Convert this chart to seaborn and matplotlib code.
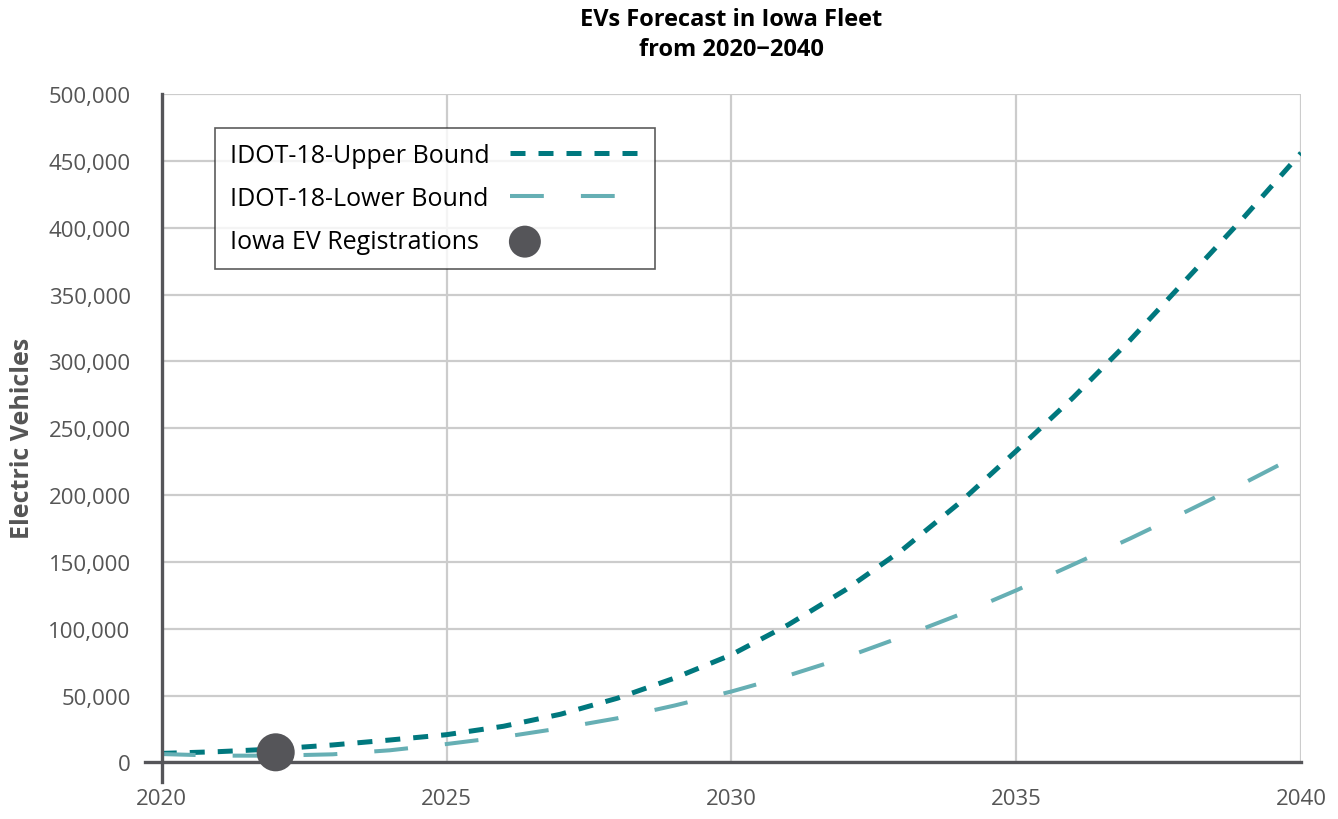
import matplotlib
matplotlib.use("Agg")
import matplotlib.pyplot as plt
import seaborn as sns
import pandas as pd
from matplotlib.ticker import FuncFormatter
from matplotlib.collections import PathCollection
from matplotlib.legend_handler import HandlerPathCollection

years = list(range(2020, 2041))
upper_bound = [6700, 8000, 10000, 13000, 16700, 20700, 27000, 36000, 48000, 63000,
               80500, 103000, 129000, 159000, 194000, 233000, 273000, 316000, 362000, 408000, 456000]
lower_bound = [6200, 5000, 5000, 6000, 9000, 13700, 19000, 25500, 33000, 42500,
               53000, 65000, 78500, 94000, 110500, 128700, 148000, 167500, 188000, 209000, 231000]
reg_years = [2022]
reg_values = [7500]

series_labels = ["IDOT-18-Upper Bound", "IDOT-18-Lower Bound", "Iowa EV Registrations"]
title_text = "EVs Forecast in Iowa Fleet\nfrom 2020\u22122040"
y_label = "Electric Vehicles"
x_ticks = [2020, 2025, 2030, 2035, 2040]
y_ticks = list(range(0, 500001, 50000))

sns.set_theme(style="white")
plt.rcParams['font.family'] = ['Open Sans', 'DejaVu Sans']

upper_color = "#00787E"
lower_color = "#66AFB4"
dot_color = "#555559"
grid_color = "#CCCCCC"
spine_color = "#555559"
text_gray = "#555555"


class LeftDotHandler(HandlerPathCollection):
    def get_xdata(self, legend, xdescent, ydescent, width, height, fontsize):
        x = [-xdescent + 0.115 * width]
        return x, x


fig = plt.figure(figsize=(13.38, 8.2), dpi=100)
ax = fig.add_axes([0.1209, 0.0691, 0.8515, 0.8149])

df = pd.DataFrame({"year": years, "upper": upper_bound, "lower": lower_bound})

sns.lineplot(data=df, x="year", y="upper", ax=ax, color=upper_color, linewidth=3.6,
             label=series_labels[0], zorder=3)
ax.lines[-1].set_dashes((3.0, 2.6))
sns.lineplot(data=df, x="year", y="lower", ax=ax, color=lower_color, linewidth=2.9,
             label=series_labels[1], zorder=3)
ax.lines[-1].set_dashes((8.4, 9.2))
sns.scatterplot(x=reg_years, y=reg_values, ax=ax, s=750, color=dot_color,
                edgecolor="none", label=series_labels[2], zorder=5, clip_on=False)

ax.set_xlim(2020, 2040)
ax.set_ylim(0, 500000)
ax.set_xticks(x_ticks)
ax.set_yticks(y_ticks)
ax.yaxis.set_major_formatter(FuncFormatter(lambda v, p: f"{int(v):,}"))

ax.grid(True, color=grid_color, linewidth=1.6, zorder=0)
ax.set_axisbelow(True)
ax.tick_params(axis="both", which="major", length=14.4, width=1.6, color=grid_color,
               labelcolor=text_gray, labelsize=16)
ax.tick_params(axis="y", pad=8)
ax.tick_params(axis="x", pad=4)

for s in ["top", "right"]:
    ax.spines[s].set_visible(False)
ax.spines["left"].set_color(spine_color)
ax.spines["left"].set_linewidth(2.4)
ax.spines["left"].set_bounds(-15000, 500000)
ax.spines["bottom"].set_color(spine_color)
ax.spines["bottom"].set_linewidth(2.4)
ax.spines["bottom"].set_bounds(2019.7, 2040)
ax.spines["left"].set_zorder(4)
ax.spines["bottom"].set_zorder(4)

ax.set_xlabel("")
ax.set_ylabel(y_label, fontsize=18, fontweight="bold", color=text_gray)
ax.yaxis.set_label_coords(-0.111, 0.487)
ax.set_title(title_text, fontsize=17, fontweight="bold", color="black", pad=28, linespacing=1.35)

handles, labels = ax.get_legend_handles_labels()
leg = ax.legend(handles, labels, loc="upper left", bbox_to_anchor=(0.047, 0.949), markerfirst=False,
                fontsize=18, handlelength=5.2, frameon=True, fancybox=False,
                borderpad=0.6, labelspacing=0.72, handletextpad=0.8, borderaxespad=0,
                handler_map={PathCollection: LeftDotHandler()})
leg.get_frame().set_edgecolor("#333333")
leg.get_frame().set_linewidth(1.2)
for t in leg.get_texts():
    t.set_color("black")
for h in leg.legend_handles:
    if hasattr(h, "set_sizes"):
        h.set_sizes([530])

# left-align legend labels while keeping handles aligned on the right
fig.canvas.draw()
renderer = fig.canvas.get_renderer()
rows = []
for col in leg._legend_handle_box.get_children():
    rows.extend(col.get_children())
maxw = max(r.get_bbox(renderer).width for r in rows)
for r in rows:
    r.mode = "expand"
    r.width = maxw

fig.savefig("out.png", dpi=100)
